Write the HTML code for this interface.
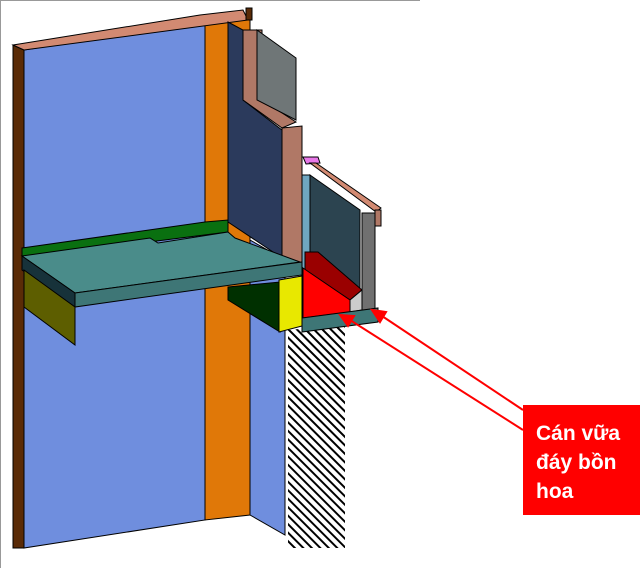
<!DOCTYPE html>
<html><head><style>body{margin:0;background:#fff}svg{display:block}</style></head><body>
<svg width="640" height="568" viewBox="0 0 640 568" xmlns="http://www.w3.org/2000/svg">
<defs><pattern id="h" width="6" height="6" patternUnits="userSpaceOnUse" patternTransform="rotate(-45)"><rect width="6" height="6" fill="#fff"/><rect width="2" height="6" fill="#000"/></pattern></defs>
<line x1="0" y1="0.5" x2="420" y2="0.5" stroke="#999"/>
<line x1="0.5" y1="0" x2="0.5" y2="568" stroke="#999"/>
<g stroke="#000" stroke-width="1">
<polygon points="24,50 205,22 205,520 24,548" fill="#6f8ede"/>
<polygon points="250,240 285,260 285,535 250,515" fill="#6f8ede"/>
<polygon points="205,20 250,14 250,515 205,520" fill="#e07808"/>
<polygon points="13,45 24,50 24,548 13,548" fill="#5a2b07"/>
<polygon points="13,45 200,15 243,10 248,20 24,50" fill="#d28a72"/>
<rect x="246" y="8" width="6" height="12" fill="#5a2b07"/>
<polygon points="228,22 243,30 243,100 282,130 282,258 228,222" fill="#2b3a5c"/>
<polygon points="243,30 262,30 262,100 296,122 282,128 243,100" fill="#b07866"/>
<polygon points="257,30 296,58 296,120 257,100" fill="#6f7677"/>
<polygon points="282,128 302,126 302,262 282,265" fill="#b07866"/>
<polygon points="22,248 205,222 228,220 228,232 22,258" fill="#0a7010"/>
<polygon points="22,256 150,238 158,243 228,232 235,238 300,262 75,293" fill="#4a8c8a"/>
<polygon points="22,256 75,293 75,307 22,270" fill="#17323a"/>
<polygon points="75,293 302,262 302,275 75,307" fill="#3e7676"/>
<polygon points="24,270 75,307 75,345 24,307" fill="#5d5e00"/>
<polygon points="228,287 280,282 280,332 228,300" fill="#003000"/>
<polygon points="279,280 302,276 302,326 279,332" fill="#e8e800"/>
<polygon points="288,330 345,325 345,548 288,548" fill="url(#h)" stroke="none"/>
<polygon points="303,157 318,157 320,163 306,164" fill="#e878e8"/>
<polygon points="310,163 316,163 381,208 376,212" fill="#d28a72"/>
<polygon points="302,175 310,175 310,318 302,320" fill="#6fa6c0"/>
<polygon points="310,175 360,210 360,300 310,315" fill="#2c4450"/>
<polygon points="305,252 318,252 362,290 350,300 305,270" fill="#9a0000"/>
<polygon points="303,268 350,300 350,312 303,318" fill="#ff0000"/>
<polygon points="350,300 362,290 362,310 350,312" fill="#cccccc"/>
<polygon points="362,213 375,213 375,310 362,312" fill="#707070"/>
<rect x="375" y="210" width="6" height="16" fill="#b07866"/>
<polygon points="302,318 378,308 378,322 302,332" fill="#3e7676"/>
</g>
<g stroke="#ff0000" stroke-width="2" fill="#ff0000">
<line x1="523" y1="410" x2="382" y2="316"/>
<line x1="523" y1="430" x2="350" y2="320"/>
<polygon points="372,310 386,312 380,322"/>
<polygon points="340,315 354,316 348,326"/>
</g>
<rect x="523" y="405" width="117" height="110" fill="#ff0000"/>
<text x="536" y="440" font-family="Liberation Sans, sans-serif" font-size="21" font-weight="bold" fill="#fff">Cán vữa</text>
<text x="536" y="469" font-family="Liberation Sans, sans-serif" font-size="21" font-weight="bold" fill="#fff">đáy bồn</text>
<text x="536" y="498" font-family="Liberation Sans, sans-serif" font-size="21" font-weight="bold" fill="#fff">hoa</text>
</svg>
</body></html>
